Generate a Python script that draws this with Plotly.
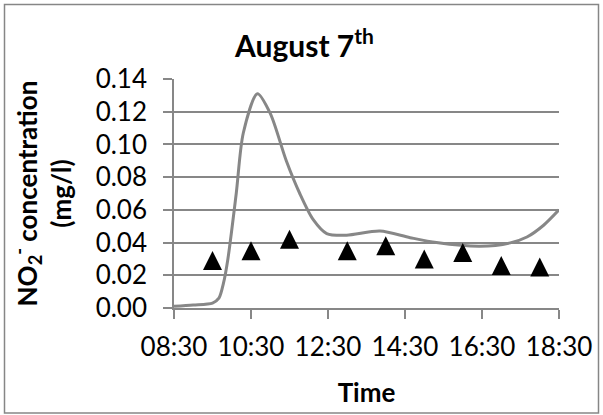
import plotly.graph_objects as go

DAY = "2013-08-07 "

# Continuous NO2- record (smoothed curve)
line_times = ["08:30", "09:00", "09:30", "09:40", "09:47", "09:54", "10:07", "10:18",
              "10:40", "11:00", "11:25", "11:46", "12:07", "12:28", "12:59", "13:51",
              "14:38", "15:19", "16:27", "17:14", "17:40", "18:06", "18:30"]
line_values = [0.0010, 0.0018, 0.0030, 0.0060, 0.0150, 0.0300, 0.0700, 0.1070,
               0.1310, 0.1190, 0.0900, 0.0700, 0.0540, 0.0455, 0.0445, 0.0470,
               0.0430, 0.0400, 0.0377, 0.0398, 0.0434, 0.0506, 0.0600]

# Grab samples
sample_times = ["09:30", "10:30", "11:30", "13:00", "14:00", "15:00", "16:00", "17:00", "18:00"]
sample_values = [0.029, 0.035, 0.042, 0.035, 0.038, 0.030, 0.034, 0.026, 0.025]

y_ticks = [0.00, 0.02, 0.04, 0.06, 0.08, 0.10, 0.12, 0.14]

W, H = 603, 415
ML, MR, MT, MB = 174, 44, 79, 107
GRID = "#878787"
FONT = "Lato"

fig = go.Figure()

fig.add_trace(go.Scatter(
    x=[DAY + t for t in line_times], y=line_values,
    mode="lines", line=dict(color="#878787", width=3, shape="spline", smoothing=0.8),
    showlegend=False, hoverinfo="skip",
))

marker_size = 19
fig.add_trace(go.Scatter(
    x=[DAY + t for t in sample_times], y=sample_values,
    mode="markers",
    marker=dict(symbol="arrow-down", angle=180, standoff=marker_size / 2,
                size=marker_size, color="black", line=dict(width=0)),
    showlegend=False,
))

# outer chart frame, expressed in paper units of the plot area
pw, ph = W - ML - MR, H - MT - MB
def px_to_paper_x(px):
    return (px - ML) / pw
def px_to_paper_y(py):
    return (H - MB - py) / ph

fig.add_shape(type="rect", xref="paper", yref="paper",
              x0=px_to_paper_x(4.5), x1=px_to_paper_x(598.5),
              y0=px_to_paper_y(413), y1=px_to_paper_y(4.5),
              line=dict(color="#868686", width=1.5), layer="below")

fig.update_layout(
    width=W, height=H,
    margin=dict(l=ML, r=MR, t=MT, b=MB, autoexpand=False),
    paper_bgcolor="white", plot_bgcolor="white",
    font=dict(family=FONT, color="black", size=27),
    title=dict(text="<b>August 7<sup>th</sup></b>", font=dict(size=30, family=FONT),
               x=0.505, xref="container", xanchor="center",
               y=1 - 46 / H, yref="container", yanchor="middle"),
    xaxis=dict(
        type="date", range=[DAY + "08:30", DAY + "18:30"],
        tick0=DAY + "08:30", dtick=2 * 3600 * 1000, tickformat="%H:%M",
        showgrid=False, showline=True, linecolor=GRID, linewidth=1.5,
        ticks="outside", ticklen=9, tickwidth=1.5, tickcolor=GRID,
        tickfont=dict(size=26), ticklabelstandoff=6,
        title=dict(text="<b>Time</b>", font=dict(size=26), standoff=23),
        zeroline=False, automargin=False, fixedrange=True,
    ),
    yaxis=dict(
        range=[0, 0.14], tickvals=y_ticks, tickformat=".2f",
        showgrid=True, gridcolor=GRID, gridwidth=1.5,
        showline=True, linecolor=GRID, linewidth=1.5,
        ticks="outside", ticklen=9, tickwidth=1.5, tickcolor=GRID,
        tickfont=dict(size=26), ticklabelstandoff=11,
        title=dict(text="<b>NO<sub>2</sub><sup>-</sup> concentration<br>(mg/l)</b>",
                   font=dict(size=26), standoff=17),
        zeroline=False, automargin=False, fixedrange=True,
    ),
)

fig.write_html("out.html")
